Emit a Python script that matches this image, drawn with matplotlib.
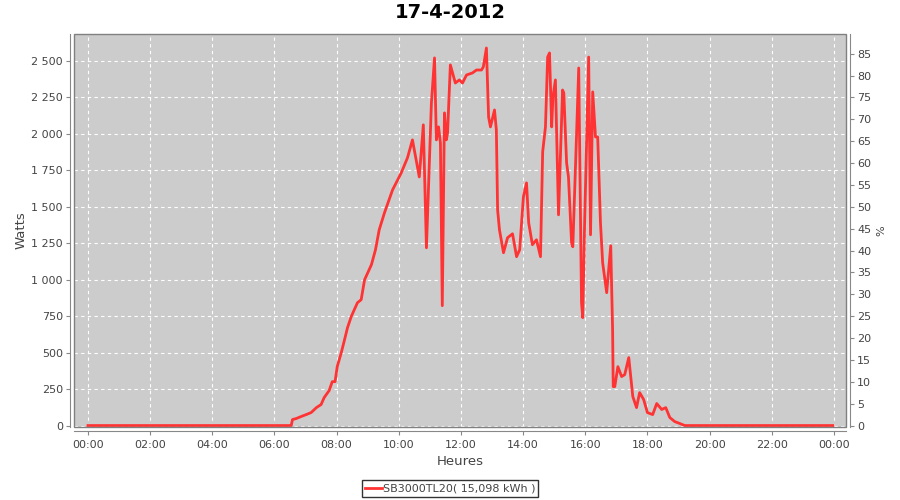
#===========================================
# Daily production chart of the inverter, 17-4-2012
#===========================================
import numpy as np
import matplotlib
matplotlib.use("Agg")
import matplotlib.pyplot as plt
from matplotlib.patches import Rectangle

#===========================================
# Data (hours, watts)
hours = [0.0, 6.50, 6.54, 6.58, 6.70, 6.86, 7.02, 7.18, 7.35, 7.50, 7.60, 7.76,
         7.86, 7.95, 8.02, 8.15, 8.28, 8.35, 8.47, 8.57, 8.67, 8.79, 8.90, 9.12,
         9.25, 9.37, 9.54, 9.80, 10.08, 10.28, 10.44, 10.66, 10.79, 10.89, 11.05,
         11.15, 11.21, 11.28, 11.34, 11.40, 11.47, 11.53, 11.57, 11.66, 11.82,
         11.95, 12.05, 12.18, 12.37, 12.50, 12.66, 12.72, 12.82, 12.89, 12.95,
         13.08, 13.14, 13.18, 13.24, 13.37, 13.50, 13.66, 13.79, 13.89, 14.01,
         14.11, 14.18, 14.30, 14.43, 14.56, 14.63, 14.72, 14.79, 14.85, 14.92,
         14.96, 15.04, 15.14, 15.27, 15.31, 15.40, 15.46, 15.56, 15.60, 15.69,
         15.79, 15.88, 15.92, 15.98, 16.11, 16.17, 16.24, 16.33, 16.40, 16.49,
         16.56, 16.69, 16.82, 16.88, 16.90, 16.95, 17.05, 17.17, 17.27, 17.40,
         17.53, 17.65, 17.75, 17.88, 18.00, 18.17, 18.30, 18.46, 18.59, 18.72,
         18.88, 19.04, 19.20, 23.97]
watts = [0, 0, 0, 41, 48, 62, 75, 89, 123, 144, 192, 240,
         301, 301, 404, 500, 610, 671, 747, 795, 842, 863, 1000, 1103,
         1205, 1342, 1459, 1616, 1733, 1836, 1959, 1705, 2062, 1219, 2212,
         2521, 1959, 2048, 1938, 822, 2144, 1959, 2007, 2473, 2349,
         2370, 2349, 2404, 2418, 2438, 2438, 2459, 2589, 2116, 2048,
         2164, 2027, 1479, 1342, 1185, 1288, 1315, 1158, 1205, 1568,
         1664, 1390, 1240, 1274, 1158, 1877, 2048, 2527, 2555, 2048,
         2253, 2370, 1445, 2301, 2281, 1801, 1705, 1253, 1226, 1801,
         2452, 842, 740, 1390, 2527, 1308, 2288, 1979, 1979, 1390,
         1116, 911, 1233, 658, 267, 267, 404, 336, 349, 466,
         199, 123, 226, 178, 89, 75, 151, 110, 123, 55,
         27, 14, 0, 0]

tick_hours = [0, 2, 4, 6, 8, 10, 12, 14, 16, 18, 20, 22, 24]
tick_labels = ["00:00", "02:00", "04:00", "06:00", "08:00", "10:00", "12:00",
               "14:00", "16:00", "18:00", "20:00", "22:00", "00:00"]
watt_ticks = [0, 250, 500, 750, 1000, 1250, 1500, 1750, 2000, 2250, 2500]
watt_labels = ["0", "250", "500", "750", "1 000", "1 250", "1 500", "1 750",
               "2 000", "2 250", "2 500"]
pct_ticks = list(range(0, 90, 5))

nominal_power = 3000.0  # 100 % on the right axis
w_min, w_max = -10, 2685

#===========================================
# Plot
grey_txt = "#444444"
axis_col = "#888888"

fig = plt.figure(figsize=(9, 5), dpi=100)
ax = fig.add_axes([74/900, 1 - 427/500, (846-74)/900, (427-34)/500])
ax.set_facecolor("#cccccc")

ax.plot(hours, watts, color="#ff3333", lw=2.0, label="SB3000TL20( 15,098 kWh )")

ax.set_xlim(-0.45, 24.39)
ax.set_ylim(w_min, w_max)
ax.set_xticks(tick_hours)
ax.set_xticklabels(tick_labels)
ax.set_yticks(watt_ticks)
ax.set_yticklabels(watt_labels)
ax.grid(True, color="white", ls=(0, (3, 3)), lw=0.8)
ax.set_axisbelow(True)

ax2 = ax.twinx()
ax2.set_ylim(w_min/nominal_power*100, w_max/nominal_power*100)
ax2.set_yticks(pct_ticks)

for a in (ax, ax2):
    for s in a.spines.values():
        s.set_color(axis_col)
        s.set_position(("outward", 3))
    a.spines["top"].set_visible(False)
    a.tick_params(colors=axis_col, labelcolor=grey_txt, labelsize=8,
                  length=3, pad=2)
ax.spines["right"].set_visible(False)
ax2.spines["left"].set_visible(False)
ax2.spines["bottom"].set_visible(False)
ax.tick_params(axis="x", pad=3)

# plot outline like the original
ax.add_patch(Rectangle((0, 0), 1, 1, transform=ax.transAxes, fill=False,
                       ec="#808080", lw=1, clip_on=False, zorder=5))

ax.set_xlabel("Heures", fontsize=9.5, color=grey_txt)
ax.xaxis.set_label_coords(0.5, (427-455)/393)
ax.set_ylabel("Watts", fontsize=9.5, color=grey_txt)
ax.yaxis.set_label_coords((28-74)/772, 0.5)
ax2.set_ylabel("%", fontsize=8, color=grey_txt)
ax2.yaxis.set_label_coords((876-74)/772, 0.5)

fig.suptitle("17-4-2012", fontsize=14, fontweight="bold", y=0.995)

leg = fig.legend(loc="lower center", bbox_to_anchor=(0.5, 3/500), fontsize=8,
                 frameon=True, fancybox=False, handlelength=1.5,
                 handletextpad=0.1, borderpad=0.3, borderaxespad=0.0)
leg.get_frame().set_edgecolor("black")
leg.get_frame().set_linewidth(1.0)
for t in leg.get_texts():
    t.set_color(grey_txt)

fig.savefig("out.png", dpi=100)
